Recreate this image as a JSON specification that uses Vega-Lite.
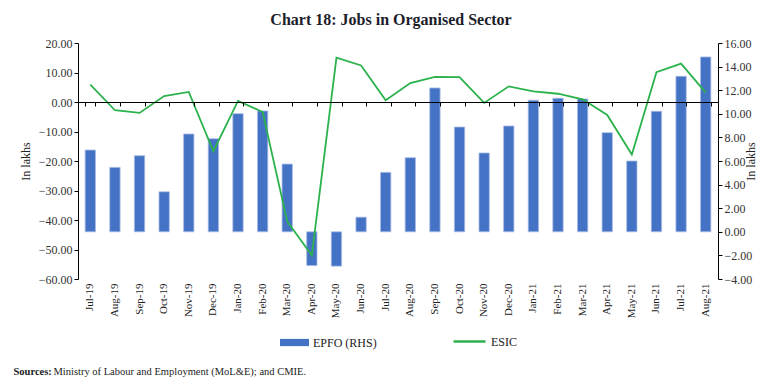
{
  "$schema": "https://vega.github.io/schema/vega-lite/v6.json",
  "width": 640,
  "height": 236,
  "autosize": {"type": "none"},
  "padding": {"left": 78, "top": 43, "right": 64, "bottom": 103},
  "background": "white",
  "title": {"text": "Chart 18: Jobs in Organised Sector", "font": "Liberation Serif", "fontSize": 16, "fontWeight": "bold", "color": "#1d1d2b", "anchor": "middle", "dx": -7, "offset": 9},
  "config": {"view": {"stroke": null}, "font": "Liberation Serif"},
  "data": {"values": [
    {"month": "Jul-19", "epfo": 6.93, "esic": 5.9},
    {"month": "Aug-19", "epfo": 5.46, "esic": -2.8},
    {"month": "Sep-19", "epfo": 6.45, "esic": -3.7},
    {"month": "Oct-19", "epfo": 3.39, "esic": 2.0},
    {"month": "Nov-19", "epfo": 8.29, "esic": 3.4},
    {"month": "Dec-19", "epfo": 7.89, "esic": -16.7},
    {"month": "Jan-20", "epfo": 10.01, "esic": 0.4},
    {"month": "Feb-20", "epfo": 10.24, "esic": -3.4},
    {"month": "Mar-20", "epfo": 5.74, "esic": -40.5},
    {"month": "Apr-20", "epfo": -2.86, "esic": -52.0},
    {"month": "May-20", "epfo": -2.91, "esic": 15.0},
    {"month": "Jun-20", "epfo": 1.24, "esic": 12.4},
    {"month": "Jul-20", "epfo": 5.04, "esic": 0.6},
    {"month": "Aug-20", "epfo": 6.28, "esic": 6.4},
    {"month": "Sep-20", "epfo": 12.19, "esic": 8.5},
    {"month": "Oct-20", "epfo": 8.88, "esic": 8.4},
    {"month": "Nov-20", "epfo": 6.68, "esic": -0.3},
    {"month": "Dec-20", "epfo": 8.97, "esic": 5.3},
    {"month": "Jan-21", "epfo": 11.15, "esic": 3.6},
    {"month": "Feb-21", "epfo": 11.32, "esic": 2.8},
    {"month": "Mar-21", "epfo": 11.26, "esic": 0.9},
    {"month": "Apr-21", "epfo": 8.40, "esic": -4.4},
    {"month": "May-21", "epfo": 6.00, "esic": -17.8},
    {"month": "Jun-21", "epfo": 10.21, "esic": 10.1},
    {"month": "Jul-21", "epfo": 13.18, "esic": 13.0},
    {"month": "Aug-21", "epfo": 14.82, "esic": 3.2}
  ]},
  "layer": [
    {
      "mark": {"type": "bar", "stroke": "#a9bde6", "strokeWidth": 0.8},
      "encoding": {
        "x": {"field": "month", "type": "ordinal", "sort": null,
          "scale": {"paddingInner": 0.58, "paddingOuter": 0.29},
          "axis": {"orient": "bottom", "domain": false, "ticks": false, "labelAngle": -90, "labelAlign": "right", "labelBaseline": "middle", "labelPadding": 4, "labelFontSize": 11, "labelColor": "#222", "labelFont": "Liberation Serif",
            "title": "Sources:", "titleFont": "Liberation Serif", "titleFontWeight": "bold", "titleFontSize": 10.5, "titleColor": "#222", "titleAnchor": "start", "titleAlign": "left", "titleX": -65, "titleY": 92, "titleBaseline": "middle"}},
        "y": {"field": "epfo", "type": "quantitative",
          "scale": {"domain": [-4, 16], "nice": false, "zero": false},
          "axis": {"orient": "right", "title": "In lakhs", "format": ".2f", "values": [-4, -2, 0, 2, 4, 6, 8, 10, 12, 14, 16], "grid": false, "tickSize": 4, "tickColor": "#000", "domainColor": "#000", "labelFontSize": 12, "labelColor": "#333", "labelFont": "Liberation Serif", "labelPadding": 2, "titleFont": "Liberation Serif", "titleFontSize": 12, "titleFontWeight": "normal", "titleColor": "#222", "titleAngle": -90, "titlePadding": 6}},
        "fill": {"datum": "EPFO (RHS)", "type": "nominal", "scale": {"range": ["#4472C4"]},
          "legend": {"orient": "none", "legendX": 202, "legendY": 285, "title": null, "symbolType": "M-1,-0.25H1V0.25H-1Z", "symbolSize": 841, "symbolStrokeWidth": 0, "labelFontSize": 12, "labelFont": "Liberation Serif", "labelColor": "#222", "labelOffset": 4}}
      }
    },
    {
      "mark": {"type": "line", "strokeWidth": 1.8},
      "encoding": {
        "x": {"field": "month", "type": "ordinal", "sort": null,
          "axis": {"orient": "bottom", "offset": -177, "labels": false, "domain": true, "domainColor": "#000", "ticks": true, "tickSize": 4, "tickBand": "extent", "tickColor": "#000", "zindex": 1,
            "title": "Ministry of Labour and Employment (MoL&E); and CMIE.", "titleFont": "Liberation Serif", "titleFontWeight": "normal", "titleFontSize": 10.5, "titleColor": "#222", "titleX": -25, "titleY": 269, "titleAlign": "left", "titleAnchor": "start", "titleBaseline": "middle"}},
        "y": {"field": "esic", "type": "quantitative",
          "scale": {"domain": [-60, 20], "nice": false, "zero": false},
          "axis": {"orient": "left", "title": "In lakhs", "format": ".2f", "values": [-60, -50, -40, -30, -20, -10, 0, 10, 20], "grid": false, "tickSize": 4, "tickColor": "#000", "domainColor": "#000", "labelFontSize": 12, "labelColor": "#333", "labelFont": "Liberation Serif", "labelPadding": 2, "titleFont": "Liberation Serif", "titleFontSize": 12, "titleFontWeight": "normal", "titleColor": "#222", "titlePadding": 6}},
        "stroke": {"datum": "ESIC", "type": "nominal", "scale": {"range": ["#2BB24C"]},
          "legend": {"orient": "none", "legendX": 374, "legendY": 281, "title": null, "symbolType": "stroke", "symbolSize": 1024, "symbolStrokeWidth": 2.5, "labelFontSize": 12, "labelFont": "Liberation Serif", "labelColor": "#222", "labelOffset": 4}}
      }
    }
  ],
  "resolve": {"scale": {"y": "independent"}, "axis": {"x": "independent", "y": "independent"}}
}
